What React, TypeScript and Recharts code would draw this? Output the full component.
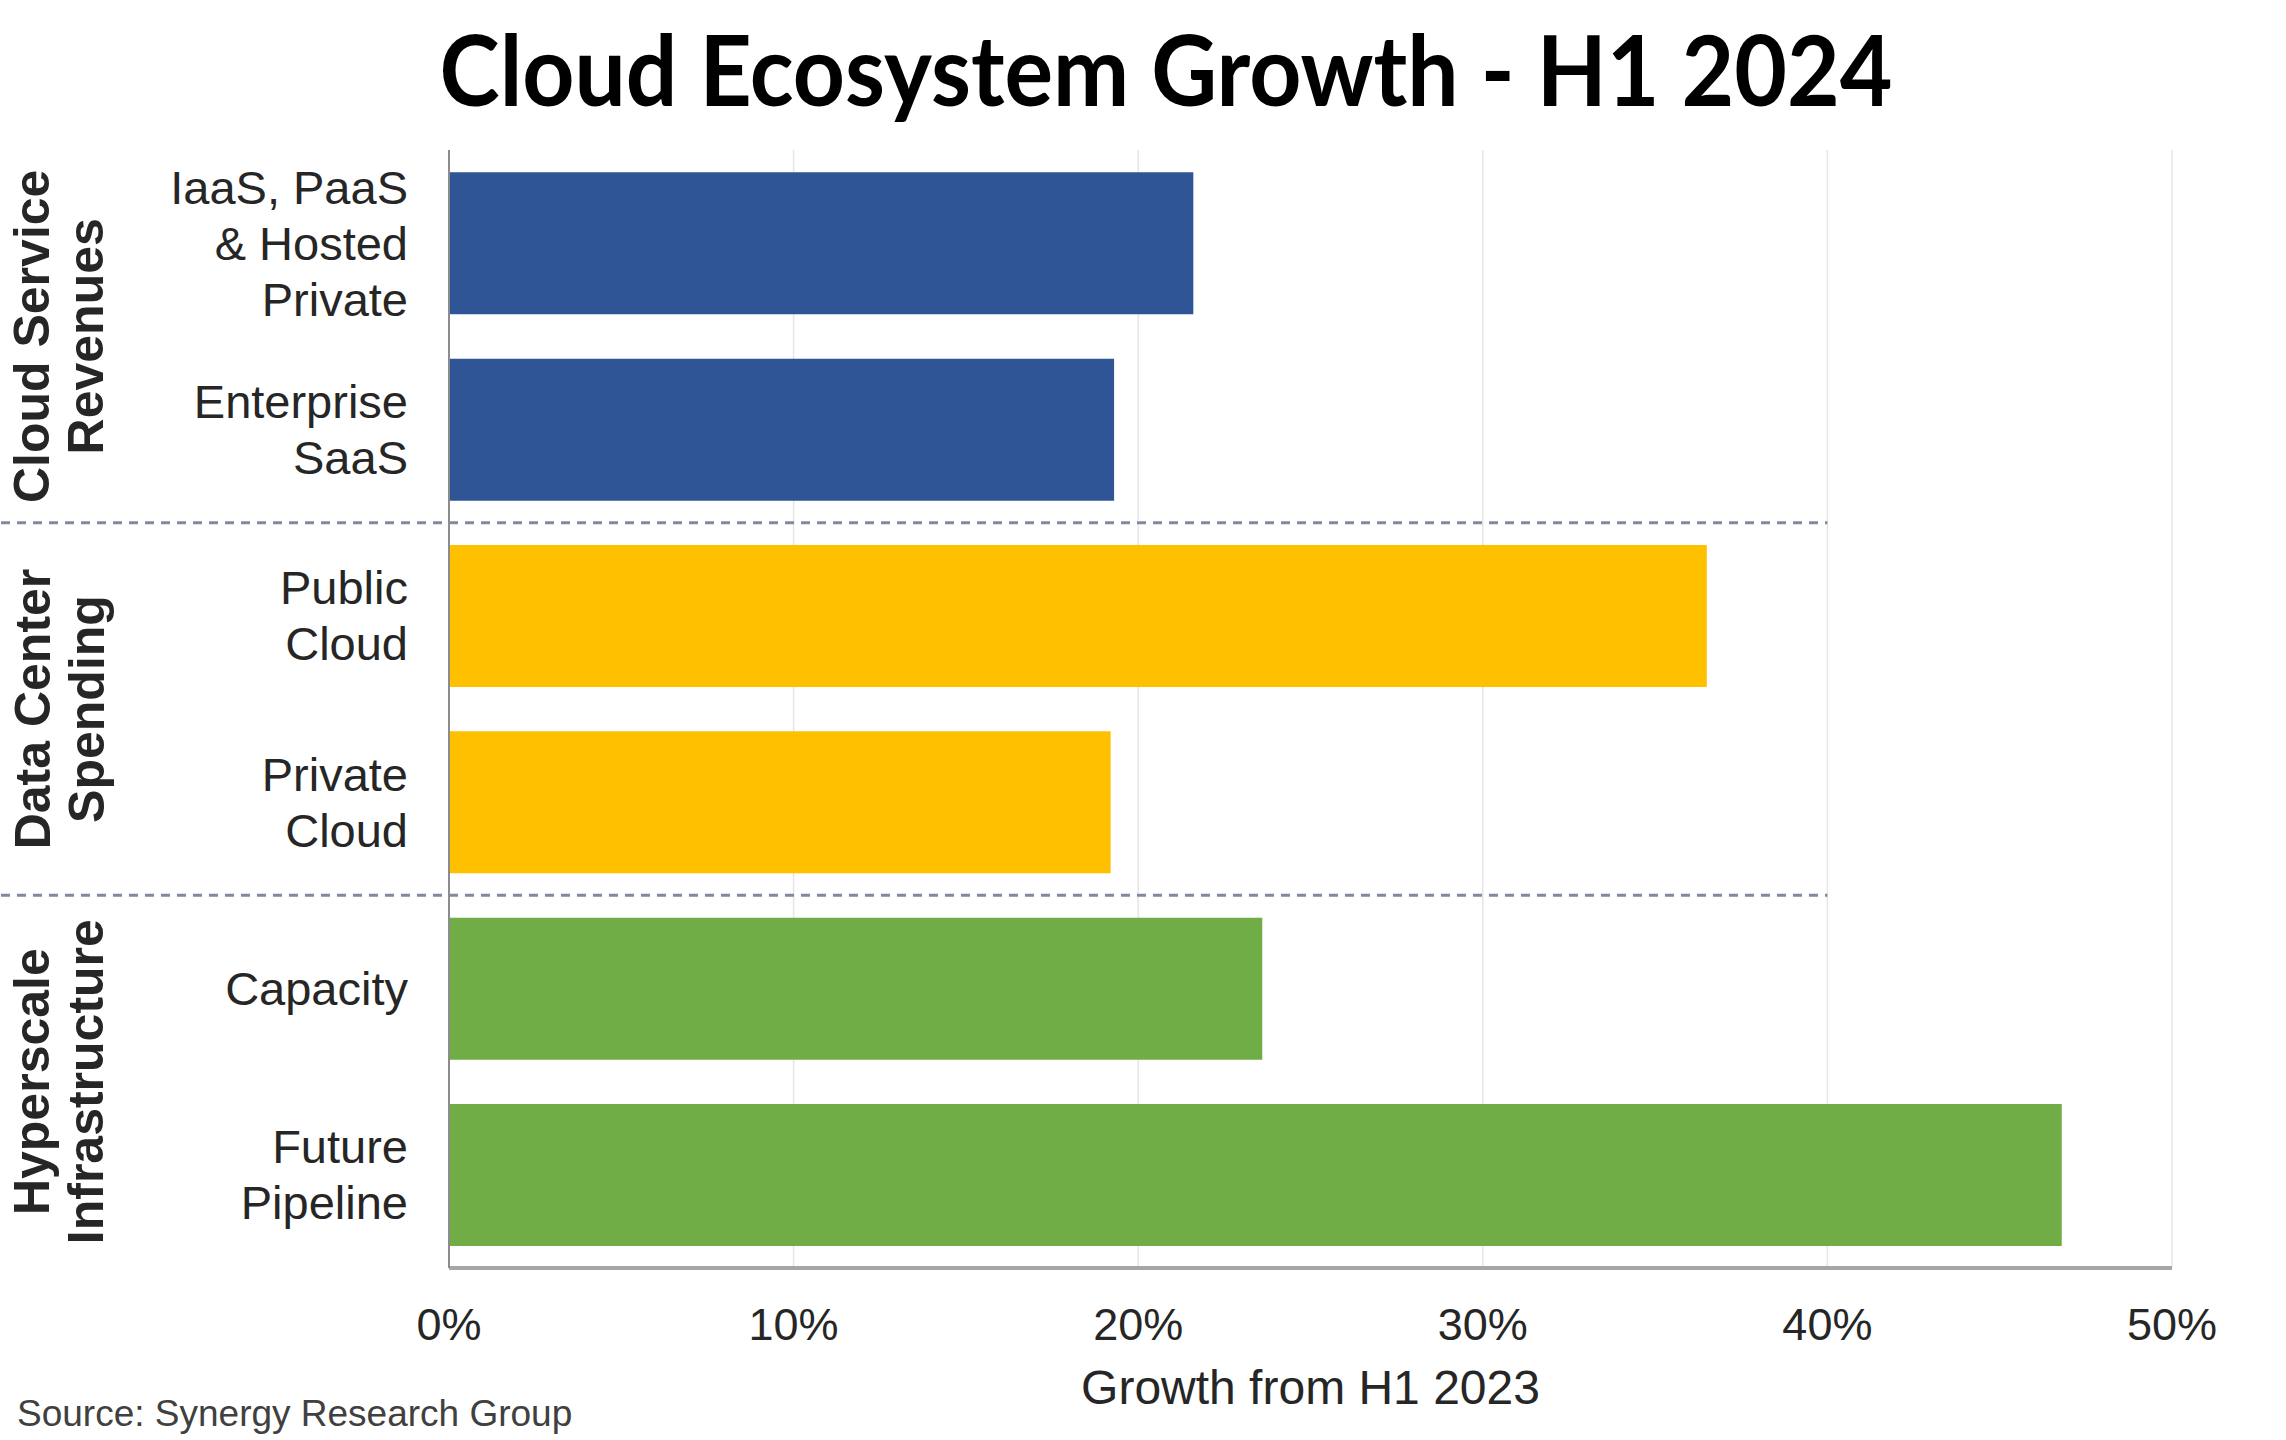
import { Bar, BarChart, CartesianGrid, Cell, ReferenceLine, XAxis, YAxis } from "recharts";

const categories = [
  "IaaS, PaaS\n& Hosted\nPrivate",
  "Enterprise\nSaaS",
  "Public\nCloud",
  "Private\nCloud",
  "Capacity",
  "Future\nPipeline",
];
const growth = [21.6, 19.3, 36.5, 19.2, 23.6, 46.8];
const groups = [
  "Cloud Service\nRevenues",
  "Cloud Service\nRevenues",
  "Data Center\nSpending",
  "Data Center\nSpending",
  "Hyperscale\nInfrastructure",
  "Hyperscale\nInfrastructure",
];
const groupColors: Record<string, string> = {
  "Cloud Service\nRevenues": "#2F5597",
  "Data Center\nSpending": "#FFC000",
  "Hyperscale\nInfrastructure": "#70AD47",
};
const xTicks = [0, 10, 20, 30, 40, 50];
// dividers drawn under these categories
const dividerAfter = [categories[1], categories[3]];

const data = categories.map((name, i) => ({ name, value: growth[i], group: groups[i] }));

const FONT = "'Liberation Sans', Arial, sans-serif";
const TEXT = "#262626";

type TickProps = {
  x?: number;
  y?: number;
  payload?: { value: string };
};

function CategoryTick({ x = 0, y = 0, payload }: TickProps) {
  const lines = String(payload?.value ?? "").split("\n");
  const lineHeight = 56;
  return (
    <text x={x} y={y} textAnchor="end" fill={TEXT} fontSize={47} fontFamily={FONT}>
      {lines.map((line, i) => (
        <tspan key={i} x={x} y={y + (i - (lines.length - 1) / 2) * lineHeight} dy="0.35em">
          {line}
        </tspan>
      ))}
    </text>
  );
}

function GroupTick({ y = 0, payload }: TickProps) {
  const lines = String(payload?.value ?? "").split("\n");
  const xs = [32, 86];
  return (
    <g>
      {lines.map((line, i) => (
        <text
          key={i}
          x={xs[i]}
          y={y}
          dy="0.35em"
          textAnchor="middle"
          fill={TEXT}
          fontSize={50}
          fontWeight={700}
          fontFamily={FONT}
          transform={`rotate(-90, ${xs[i]}, ${y})`}
        >
          {line}
        </text>
      ))}
    </g>
  );
}

type LabelProps = { viewBox?: { x?: number; y?: number; width?: number } };

function AxisTitle({ viewBox }: LabelProps) {
  const cx = (viewBox?.x ?? 0) + (viewBox?.width ?? 0) / 2;
  const y = (viewBox?.y ?? 0) + 136;
  return (
    <text x={cx} y={y} textAnchor="middle" fill={TEXT} fontSize={48} fontFamily={FONT}>
      Growth from H1 2023
    </text>
  );
}

export default function App() {
  return (
    <div
      style={{
        position: "absolute",
        left: 0,
        top: 0,
        width: 2286,
        height: 1440,
        background: "#fff",
        overflow: "hidden",
      }}
    >
      <BarChart
        width={2286}
        height={1440}
        data={data}
        layout="vertical"
        margin={{ top: 150, right: 114, bottom: 0, left: 0 }}
        barCategoryGap="12%"
      >
        <CartesianGrid horizontal={false} stroke="#e6e6e6" strokeWidth={1.5} />
        <XAxis
          type="number"
          domain={[0, 50]}
          ticks={xTicks}
          tickFormatter={(v: number) => `${v}%`}
          height={172}
          tickSize={0}
          tickMargin={40}
          axisLine={{ stroke: "#a6a6a6", strokeWidth: 4 }}
          tick={{ fill: TEXT, fontSize: 45, fontFamily: FONT }}
          label={<AxisTitle />}
        />
        <YAxis
          type="category"
          dataKey="name"
          width={334}
          tickSize={0}
          tickMargin={41}
          axisLine={{ stroke: "#8c8c8c", strokeWidth: 2 }}
          tick={<CategoryTick />}
          interval={0}
        />
        <YAxis
          yAxisId="group"
          type="category"
          dataKey="group"
          allowDuplicatedCategory={false}
          width={115}
          axisLine={false}
          tickLine={false}
          tick={<GroupTick />}
          interval={0}
        />
        <Bar dataKey="value" isAnimationActive={false}>
          {data.map((d) => (
            <Cell key={d.name} fill={groupColors[d.group]} />
          ))}
        </Bar>
        {dividerAfter.map((cat) => (
          <ReferenceLine
            key={cat}
            segment={[
              { x: -13, y: cat },
              { x: 40, y: cat },
            ]}
            position="end"
            ifOverflow="visible"
            stroke="#7f8a9e"
            strokeWidth={3}
            strokeDasharray="9 7"
          />
        ))}
      </BarChart>
      <svg
        width={2286}
        height={1440}
        style={{ position: "absolute", left: 0, top: 0, pointerEvents: "none" }}
      >
        <text
          x={1166}
          y={106}
          textAnchor="middle"
          fontSize={97}
          fontWeight={700}
          fontFamily="Lato, 'Open Sans', sans-serif"
          fill="#000"
          textLength={1453}
          lengthAdjust="spacingAndGlyphs"
        >
          Cloud Ecosystem Growth - H1 2024
        </text>
        <text x={17} y={1426} fontSize={37} fontFamily={FONT} fill="#404040">
          Source: Synergy Research Group
        </text>
      </svg>
    </div>
  );
}
